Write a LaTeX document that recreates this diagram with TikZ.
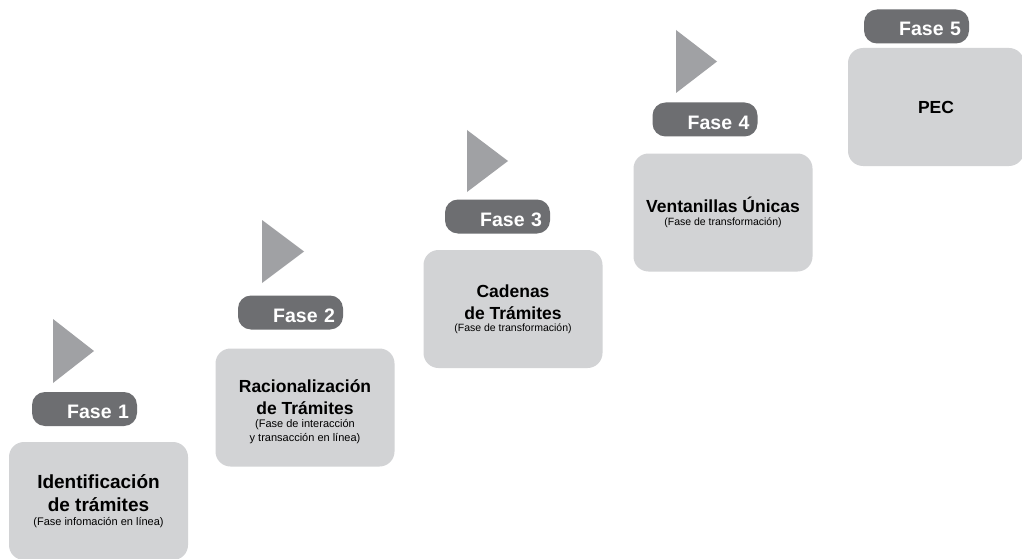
\documentclass[tikz,border=0pt]{standalone}
\usepackage{fontspec}
\setmainfont{Liberation Sans}
\definecolor{tabgray}{HTML}{6D6E71}
\definecolor{boxgray}{HTML}{D2D3D5}
\definecolor{arrgray}{HTML}{A0A1A4}
\newcommand{\bigttl}{\fontsize{19}{23}\selectfont\bfseries}
\newcommand{\ttl}{\fontsize{17.5}{22}\selectfont\bfseries}
\newcommand{\subt}{\fontsize{10.5}{14}\selectfont\mdseries}

\begin{document}
\begin{tikzpicture}[x=1pt,y=-1pt,
  tab/.style={fill=tabgray,rounded corners=13pt,minimum width=105pt,minimum height=34pt,text width=89pt,text height=19pt,text depth=0pt,inner xsep=8pt,align=right,text=white,font=\fontsize{19.5}{20}\selectfont\bfseries},
  panel/.style={fill=boxgray,rounded corners=15pt,minimum width=179pt,minimum height=118pt,inner sep=0pt,align=center,font=\ttl}]
\useasboundingbox[fill=white] (0,0) rectangle (1022,559);
% fase 1
\fill[arrgray] (53,319) -- (94,351) -- (53,383) -- cycle;
\node[tab] (tab1) at (84.5,409) {Fase 1};
\node[panel,font=\bigttl] (box1) at (98.5,501) {\bigttl Identificación\\\bigttl de trámites\\[-9.5pt]\fontsize{11}{13}\selectfont\mdseries(Fase infomación en línea)};
% fase 2
\fill[arrgray] (262,220) -- (304,251.5) -- (262,283) -- cycle;
\node[tab] (tab2) at (290.5,312.5) {Fase 2};
\node[panel] (box2) at (305,407.5) {\ttl\rule{0pt}{21pt}Racionalización\\\ttl de Trámites\\[-9.5pt]\subt\fontsize{11}{14}\selectfont(Fase de interacción\\[-8pt]\subt\fontsize{11}{14}\selectfont y transacción en línea)};
% fase 3
\fill[arrgray] (467,130) -- (508,161) -- (467,192) -- cycle;
\node[tab] (tab3) at (497.5,216.5) {Fase 3};
\node[panel] (box3) at (513,309) {\ttl Cadenas\\\ttl de Trámites\\[-9.5pt]\subt(Fase de transformación)};
% fase 4
\fill[arrgray] (676,30) -- (717,61.5) -- (676,93) -- cycle;
\node[tab] (tab4) at (705,119.5) {Fase 4};
\node[panel] (box4) at (723,212.5) {\ttl Ventanillas Únicas\\[-9.5pt]\subt(Fase de transformación)};
% fase 5
\node[tab] (tab5) at (916.5,26.5) {Fase 5};
\node[panel,minimum width=176pt] (box5) at (936,107) {\ttl PEC};
\end{tikzpicture}
\end{document}
